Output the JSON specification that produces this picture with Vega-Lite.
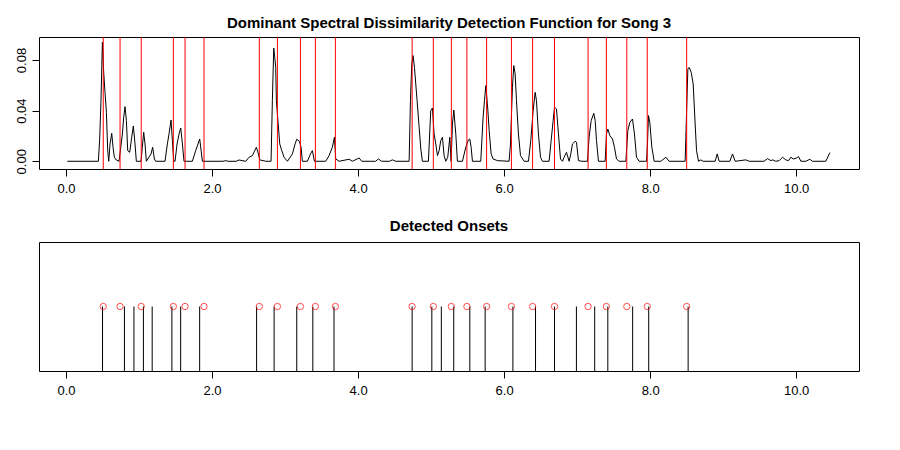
{
  "$schema": "https://vega.github.io/schema/vega-lite/v6.json",
  "padding": {"top": 15, "left": 14, "right": 40, "bottom": 5},
  "background": "white",
  "spacing": 22,
  "config": {
    "font": "Liberation Sans",
    "view": {"stroke": "black", "strokeWidth": 1},
    "title": {"fontSize": 15, "fontWeight": "bold", "color": "black", "font": "Liberation Sans"},
    "axis": {"grid": false, "domain": false, "tickColor": "black", "labelColor": "black", "labelFontSize": 13, "tickSize": 7, "titleFontSize": 12, "labelFont": "Liberation Sans"}
  },
  "datasets": {
    "odf": [
      {"t": 0.018, "v": 0}, {"t": 0.443, "v": 0}, {"t": 0.461, "v": 0.0176}, {"t": 0.479, "v": 0.0479},
      {"t": 0.498, "v": 0.094}, {"t": 0.516, "v": 0.0703}, {"t": 0.534, "v": 0.0545}, {"t": 0.553, "v": 0.0387},
      {"t": 0.571, "v": 0.0084}, {"t": 0.585, "v": 0}, {"t": 0.603, "v": 0.0137}, {"t": 0.626, "v": 0.0221},
      {"t": 0.644, "v": 0.0111}, {"t": 0.662, "v": 0.0032}, {"t": 0.689, "v": 0.001}, {"t": 0.726, "v": 0},
      {"t": 0.772, "v": 0.0216}, {"t": 0.79, "v": 0.0348}, {"t": 0.808, "v": 0.0432}, {"t": 0.827, "v": 0.0321},
      {"t": 0.845, "v": 0.0084}, {"t": 0.872, "v": 0.0071}, {"t": 0.9, "v": 0.019}, {"t": 0.922, "v": 0.0279},
      {"t": 0.945, "v": 0.0137}, {"t": 0.963, "v": 0}, {"t": 1.027, "v": 0}, {"t": 1.045, "v": 0.0111},
      {"t": 1.064, "v": 0.0229}, {"t": 1.082, "v": 0.0137}, {"t": 1.1, "v": 0}, {"t": 1.164, "v": 0.0058},
      {"t": 1.187, "v": 0.0111}, {"t": 1.21, "v": 0.0018}, {"t": 1.228, "v": 0}, {"t": 1.356, "v": 0},
      {"t": 1.388, "v": 0.0137}, {"t": 1.411, "v": 0.0216}, {"t": 1.438, "v": 0.0326}, {"t": 1.457, "v": 0.0163},
      {"t": 1.475, "v": 0}, {"t": 1.493, "v": 0}, {"t": 1.521, "v": 0.0137}, {"t": 1.548, "v": 0.0216},
      {"t": 1.571, "v": 0.0263}, {"t": 1.594, "v": 0.0137}, {"t": 1.616, "v": 0}, {"t": 1.73, "v": 0},
      {"t": 1.776, "v": 0.0084}, {"t": 1.831, "v": 0.0176}, {"t": 1.868, "v": 0}, {"t": 2.15, "v": 0},
      {"t": 2.187, "v": 0.0005}, {"t": 2.22, "v": 0}, {"t": 2.33, "v": 0}, {"t": 2.37, "v": 0.001},
      {"t": 2.461, "v": 0}, {"t": 2.507, "v": 0.0032}, {"t": 2.553, "v": 0.0045}, {"t": 2.607, "v": 0.0111},
      {"t": 2.635, "v": 0.0058}, {"t": 2.653, "v": 0.0011}, {"t": 2.735, "v": 0}, {"t": 2.808, "v": 0},
      {"t": 2.826, "v": 0.0479}, {"t": 2.845, "v": 0.0895}, {"t": 2.859, "v": 0.0821}, {"t": 2.872, "v": 0.0742},
      {"t": 2.881, "v": 0.0479}, {"t": 2.904, "v": 0.0308}, {"t": 2.927, "v": 0.0137}, {"t": 2.955, "v": 0.0084},
      {"t": 2.986, "v": 0.0032}, {"t": 3.032, "v": 0}, {"t": 3.1, "v": 0.0058}, {"t": 3.137, "v": 0.0137},
      {"t": 3.16, "v": 0.0174}, {"t": 3.196, "v": 0.0158}, {"t": 3.219, "v": 0.0111}, {"t": 3.237, "v": 0},
      {"t": 3.306, "v": 0}, {"t": 3.352, "v": 0.0063}, {"t": 3.374, "v": 0.0084}, {"t": 3.402, "v": 0},
      {"t": 3.557, "v": 0}, {"t": 3.603, "v": 0.0045}, {"t": 3.648, "v": 0.0111}, {"t": 3.676, "v": 0.019},
      {"t": 3.694, "v": 0.0018}, {"t": 3.74, "v": 0}, {"t": 3.877, "v": 0.0016}, {"t": 3.922, "v": 0},
      {"t": 4.014, "v": 0.0026}, {"t": 4.05, "v": 0}, {"t": 4.24, "v": 0}, {"t": 4.278, "v": 0.0018},
      {"t": 4.324, "v": 0}, {"t": 4.43, "v": 0}, {"t": 4.47, "v": 0.0011}, {"t": 4.516, "v": 0},
      {"t": 4.699, "v": 0}, {"t": 4.717, "v": 0.0479}, {"t": 4.735, "v": 0.0769}, {"t": 4.753, "v": 0.0835},
      {"t": 4.772, "v": 0.0742}, {"t": 4.79, "v": 0.0611}, {"t": 4.808, "v": 0.0479}, {"t": 4.836, "v": 0.0269},
      {"t": 4.859, "v": 0.0097}, {"t": 4.881, "v": 0}, {"t": 4.963, "v": 0}, {"t": 4.995, "v": 0.04},
      {"t": 5.018, "v": 0.0421}, {"t": 5.041, "v": 0.0216}, {"t": 5.064, "v": 0.0137}, {"t": 5.087, "v": 0.0045},
      {"t": 5.11, "v": 0.0084}, {"t": 5.132, "v": 0.0163}, {"t": 5.155, "v": 0.019}, {"t": 5.178, "v": 0.0045},
      {"t": 5.201, "v": 0}, {"t": 5.228, "v": 0.0032}, {"t": 5.256, "v": 0.019}, {"t": 5.274, "v": 0},
      {"t": 5.292, "v": 0.0295}, {"t": 5.311, "v": 0.0405}, {"t": 5.338, "v": 0.0216}, {"t": 5.36, "v": 0},
      {"t": 5.429, "v": 0}, {"t": 5.475, "v": 0.0111}, {"t": 5.511, "v": 0.0169}, {"t": 5.53, "v": 0.0176},
      {"t": 5.548, "v": 0.0111}, {"t": 5.566, "v": 0}, {"t": 5.68, "v": 0}, {"t": 5.712, "v": 0.0348},
      {"t": 5.731, "v": 0.0479}, {"t": 5.749, "v": 0.0598}, {"t": 5.776, "v": 0.0413}, {"t": 5.795, "v": 0.0242},
      {"t": 5.822, "v": 0.0058}, {"t": 5.849, "v": 0.0018}, {"t": 5.909, "v": 0.0005}, {"t": 6.068, "v": 0},
      {"t": 6.087, "v": 0.0137}, {"t": 6.114, "v": 0.0585}, {"t": 6.132, "v": 0.0756}, {"t": 6.151, "v": 0.069},
      {"t": 6.169, "v": 0.0479}, {"t": 6.196, "v": 0.0216}, {"t": 6.224, "v": 0.0045}, {"t": 6.274, "v": 0},
      {"t": 6.333, "v": 0}, {"t": 6.365, "v": 0.0163}, {"t": 6.397, "v": 0.04}, {"t": 6.425, "v": 0.0545},
      {"t": 6.443, "v": 0.0479}, {"t": 6.47, "v": 0.0216}, {"t": 6.498, "v": 0.0032}, {"t": 6.525, "v": 0},
      {"t": 6.616, "v": 0}, {"t": 6.644, "v": 0.0163}, {"t": 6.671, "v": 0.0321}, {"t": 6.69, "v": 0.0427},
      {"t": 6.717, "v": 0.0413}, {"t": 6.744, "v": 0.0216}, {"t": 6.772, "v": 0.0018}, {"t": 6.799, "v": 0},
      {"t": 6.822, "v": 0.0032}, {"t": 6.854, "v": 0.0071}, {"t": 6.89, "v": 0}, {"t": 6.913, "v": 0.0058},
      {"t": 6.936, "v": 0.0137}, {"t": 6.973, "v": 0.0158}, {"t": 6.991, "v": 0.015}, {"t": 7.018, "v": 0.0005},
      {"t": 7.064, "v": 0}, {"t": 7.142, "v": 0}, {"t": 7.164, "v": 0.019}, {"t": 7.192, "v": 0.0321},
      {"t": 7.228, "v": 0.0379}, {"t": 7.247, "v": 0.0321}, {"t": 7.265, "v": 0.0163}, {"t": 7.292, "v": 0},
      {"t": 7.384, "v": 0}, {"t": 7.402, "v": 0.0216}, {"t": 7.42, "v": 0.0255}, {"t": 7.448, "v": 0.0203},
      {"t": 7.484, "v": 0.0176}, {"t": 7.511, "v": 0.0111}, {"t": 7.539, "v": 0.0018}, {"t": 7.575, "v": 0},
      {"t": 7.667, "v": 0}, {"t": 7.694, "v": 0.0242}, {"t": 7.722, "v": 0.0308}, {"t": 7.758, "v": 0.0334},
      {"t": 7.785, "v": 0.0216}, {"t": 7.813, "v": 0.0032}, {"t": 7.849, "v": 0}, {"t": 7.95, "v": 0},
      {"t": 7.963, "v": 0.0137}, {"t": 7.977, "v": 0.0361}, {"t": 7.995, "v": 0.0308}, {"t": 8.023, "v": 0.0111},
      {"t": 8.055, "v": 0}, {"t": 8.146, "v": 0}, {"t": 8.215, "v": 0.0032}, {"t": 8.26, "v": 0},
      {"t": 8.479, "v": 0}, {"t": 8.498, "v": 0.0374}, {"t": 8.516, "v": 0.0729}, {"t": 8.534, "v": 0.0742},
      {"t": 8.562, "v": 0.0703}, {"t": 8.589, "v": 0.0611}, {"t": 8.616, "v": 0.0295}, {"t": 8.635, "v": 0.0084},
      {"t": 8.662, "v": 0}, {"t": 8.694, "v": 0.0011}, {"t": 8.726, "v": 0}, {"t": 8.89, "v": 0},
      {"t": 8.918, "v": 0.0058}, {"t": 8.945, "v": 0}, {"t": 9.091, "v": 0}, {"t": 9.128, "v": 0.0058},
      {"t": 9.164, "v": 0}, {"t": 9.31, "v": 0.0011}, {"t": 9.356, "v": 0}, {"t": 9.56, "v": 0},
      {"t": 9.607, "v": 0.0021}, {"t": 9.653, "v": 0.0005}, {"t": 9.676, "v": 0.0011}, {"t": 9.721, "v": 0},
      {"t": 9.767, "v": 0.0005}, {"t": 9.813, "v": 0.0032}, {"t": 9.858, "v": 0.0011}, {"t": 9.895, "v": 0.0005},
      {"t": 9.927, "v": 0.0032}, {"t": 9.959, "v": 0.0018}, {"t": 10.005, "v": 0.0026}, {"t": 10.032, "v": 0.0037},
      {"t": 10.064, "v": 0}, {"t": 10.133, "v": 0}, {"t": 10.187, "v": 0.0016}, {"t": 10.224, "v": 0},
      {"t": 10.406, "v": 0}, {"t": 10.461, "v": 0.0069}
    ],
    "detected": [
      {"t": 0.51}, {"t": 0.74}, {"t": 1.03}, {"t": 1.47}, {"t": 1.63}, {"t": 1.89}, {"t": 2.647}, {"t": 2.895},
      {"t": 3.21}, {"t": 3.415}, {"t": 3.689}, {"t": 4.74}, {"t": 5.03}, {"t": 5.277}, {"t": 5.49}, {"t": 5.76},
      {"t": 6.1}, {"t": 6.39}, {"t": 6.69}, {"t": 7.15}, {"t": 7.4}, {"t": 7.68}, {"t": 7.96}, {"t": 8.5}
    ],
    "truth": [
      {"t": 0.5}, {"t": 0.8}, {"t": 0.93}, {"t": 1.06}, {"t": 1.18}, {"t": 1.45}, {"t": 1.57}, {"t": 1.83},
      {"t": 2.61}, {"t": 2.85}, {"t": 3.16}, {"t": 3.38}, {"t": 3.67}, {"t": 4.74}, {"t": 5.01}, {"t": 5.14},
      {"t": 5.31}, {"t": 5.53}, {"t": 5.74}, {"t": 6.12}, {"t": 6.43}, {"t": 6.69}, {"t": 6.99}, {"t": 7.24},
      {"t": 7.42}, {"t": 7.76}, {"t": 7.98}, {"t": 8.52}
    ]
  },
  "vconcat": [
    {
      "title": {"text": "Dominant Spectral Dissimilarity Detection Function for Song 3", "offset": 6},
      "width": 820,
      "height": 132,
      "layer": [
        {
          "data": {"name": "odf"},
          "mark": {"type": "line", "color": "black", "strokeWidth": 1, "clip": true},
          "encoding": {
            "x": {"field": "t", "type": "quantitative", "scale": {"domain": [-0.37, 10.86], "nice": false, "zero": false},
                  "axis": {"values": [0, 2, 4, 6, 8, 10], "title": null, "labelPadding": 6}},
            "y": {"field": "v", "type": "quantitative", "scale": {"domain": [-0.0061, 0.0982], "nice": false, "zero": false},
                  "axis": {"values": [0, 0.04, 0.08], "format": ".2f", "title": null, "labelAngle": -90, "labelAlign": "center", "labelBaseline": "bottom", "labelPadding": 4}}
          }
        },
        {
          "data": {"name": "detected"},
          "mark": {"type": "rule", "color": "red", "strokeWidth": 1},
          "encoding": {"x": {"field": "t", "type": "quantitative"}}
        }
      ]
    },
    {
      "title": {"text": "Detected Onsets", "offset": 8},
      "width": 820,
      "height": 129,
      "layer": [
        {
          "data": {"name": "truth"},
          "mark": {"type": "rule", "color": "black", "strokeWidth": 1},
          "encoding": {
            "x": {"field": "t", "type": "quantitative", "scale": {"domain": [-0.37, 10.86], "nice": false, "zero": false},
                  "axis": {"values": [0, 2, 4, 6, 8, 10], "title": null, "labelPadding": 6}},
            "y": {"datum": 0, "type": "quantitative", "scale": {"domain": [0, 2], "nice": false},
                  "axis": {"values": [1], "format": ".2f", "title": null, "labelAngle": -90, "labelAlign": "center", "labelBaseline": "bottom", "labelPadding": 4, "labelColor": "transparent", "tickColor": "transparent"}},
            "y2": {"datum": 1}
          }
        },
        {
          "data": {"name": "detected"},
          "mark": {"type": "point", "color": "red", "filled": false, "size": 40, "strokeWidth": 1},
          "encoding": {
            "x": {"field": "t", "type": "quantitative"},
            "y": {"datum": 1, "type": "quantitative"}
          }
        }
      ]
    }
  ]
}
